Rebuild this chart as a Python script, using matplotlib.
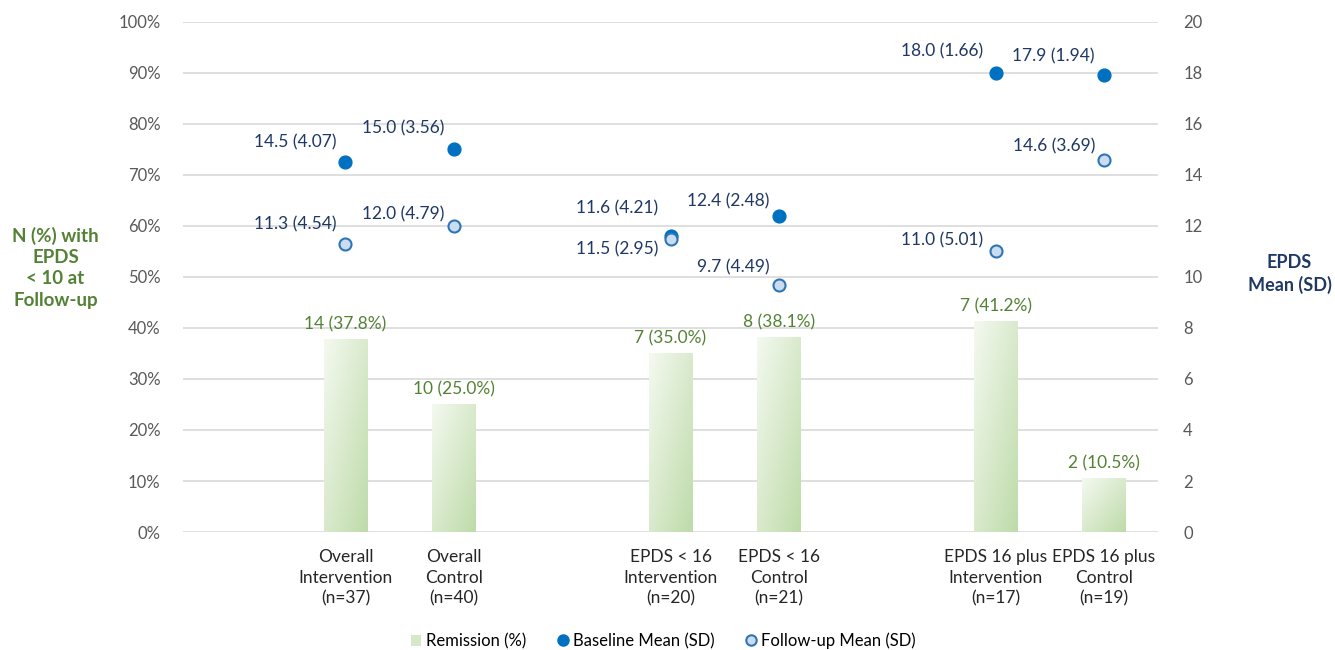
import numpy as np
import matplotlib.pyplot as plt
from matplotlib.colors import LinearSegmentedColormap
from matplotlib.lines import Line2D
from matplotlib.patches import Patch

plt.rcParams['font.family'] = ['Lato', 'DejaVu Sans']

# data
groups = ["Overall\nIntervention\n(n=37)", "Overall\nControl\n(n=40)",
          "EPDS < 16\nIntervention\n(n=20)", "EPDS < 16\nControl\n(n=21)",
          "EPDS 16 plus\nIntervention\n(n=17)", "EPDS 16 plus\nControl\n(n=19)"]
slots = [1, 2, 4, 5, 7, 8]          # empty slots 0, 3, 6 separate the groups
remission_n = [14, 10, 7, 8, 7, 2]
remission_pct = [37.8, 25.0, 35.0, 38.1, 41.2, 10.5]
baseline_mean = [14.5, 15.0, 11.6, 12.4, 18.0, 17.9]
baseline_sd = [4.07, 3.56, 4.21, 2.48, 1.66, 1.94]
followup_mean = [11.3, 12.0, 11.5, 9.7, 11.0, 14.6]
followup_sd = [4.54, 4.79, 2.95, 4.49, 5.01, 3.69]

# label offsets in pixels (dx, dy) - style only
base_off = [(-9, 20), (-9, 21), (-12, 28), (-9, 14), (-12, 21), (-9, 19)]
follow_off = [(-9, 19), (-9, 11), (-12, -11), (-9, 17), (-12, 11), (-9, 13)]

green = '#548235'
navy = '#1F3864'
grey = '#595959'
fs = 12.5

fig = plt.figure(figsize=(13.35, 6.5), dpi=100)
ax = fig.add_axes([0.137, 0.1815, 0.7305, 0.785])
ax2 = ax.twinx()

# gradient bars (light top-left to green bottom-right)
cmap = LinearSegmentedColormap.from_list('g', ['#F4F9F0', '#BEDBA9'])
gx, gy = np.meshgrid(np.linspace(0, 1, 50), np.linspace(0, 1, 50))
grad = (gx + gy) / 2
w = 0.4
for s, p, n in zip(slots, remission_pct, remission_n):
    ax.imshow(grad, cmap=cmap, extent=[s - w / 2, s + w / 2, 0, p], origin='upper',
              aspect='auto', zorder=2, interpolation='bilinear')
    ax.text(s, p + 1.4, f"{n} ({p:.1f}%)", ha='center', va='bottom', color=green, fontsize=fs)
ax.set_aspect('auto')
ax.set_xlim(-0.5, 8.5)
ax.set_ylim(0, 100)
ax2.set_ylim(0, 20)

# grid
ax.set_yticks(np.arange(0, 101, 10))
ax.set_yticklabels([f"{v}%" for v in range(0, 101, 10)])
ax.yaxis.grid(True, color='#D9D9D9', lw=1.2, zorder=0)
ax.set_axisbelow(True)
ax2.set_yticks(np.arange(0, 21, 2))
for a in (ax, ax2):
    for sp in a.spines.values():
        sp.set_visible(False)
    a.tick_params(axis='y', length=0, labelsize=12, labelcolor=grey)
ax.tick_params(axis='y', pad=16)
ax2.tick_params(axis='y', pad=18)

ax.set_xticks(slots)
ax.set_xticklabels(groups, fontsize=fs, color='#262626', linespacing=1.38)
ax.tick_params(axis='x', length=0, pad=12)

# points
ax2.scatter(slots, baseline_mean, s=85, color='#0070C0', zorder=4)
ax2.scatter(slots, followup_mean, s=75, facecolor='#C9DCF0', edgecolor='#2E75B6',
            linewidth=1.5, zorder=5)
for s, m, sd, (dx, dy) in zip(slots, baseline_mean, baseline_sd, base_off):
    ax2.annotate(f"{m:.1f} ({sd:.2f})", (s, m), xytext=(dx, dy), textcoords='offset pixels',
                 ha='right', va='center', color=navy, fontsize=fs)
for s, m, sd, (dx, dy) in zip(slots, followup_mean, followup_sd, follow_off):
    ax2.annotate(f"{m:.1f} ({sd:.2f})", (s, m), xytext=(dx, dy), textcoords='offset pixels',
                 ha='right', va='center', color=navy, fontsize=fs)

# axis titles
fig.text(0.0415, 0.588, "N (%) with\nEPDS\n< 10 at\nFollow-up", ha='center', va='center',
         color=green, fontsize=13.5, fontweight='bold', linespacing=1.3)
fig.text(0.966, 0.578, "EPDS\nMean (SD)", ha='center', va='center',
         color=navy, fontsize=13, fontweight='bold', linespacing=1.3)

# legend
handles = [Patch(facecolor='#D5E8C8', edgecolor='none'),
           Line2D([], [], marker='o', ls='', color='#0070C0', markersize=8),
           Line2D([], [], marker='o', ls='', markerfacecolor='#C9DCF0',
                  markeredgecolor='#2E75B6', markeredgewidth=1.5, markersize=7.5)]
fig.legend(handles, ["Remission (%)", "Baseline Mean (SD)", "Follow-up Mean (SD)"],
           loc='center', bbox_to_anchor=(0.497, 0.014), ncol=3, frameon=False,
           fontsize=12, handlelength=0.6, handletextpad=0.3, columnspacing=1.9)

fig.savefig('out.png', dpi=100)
